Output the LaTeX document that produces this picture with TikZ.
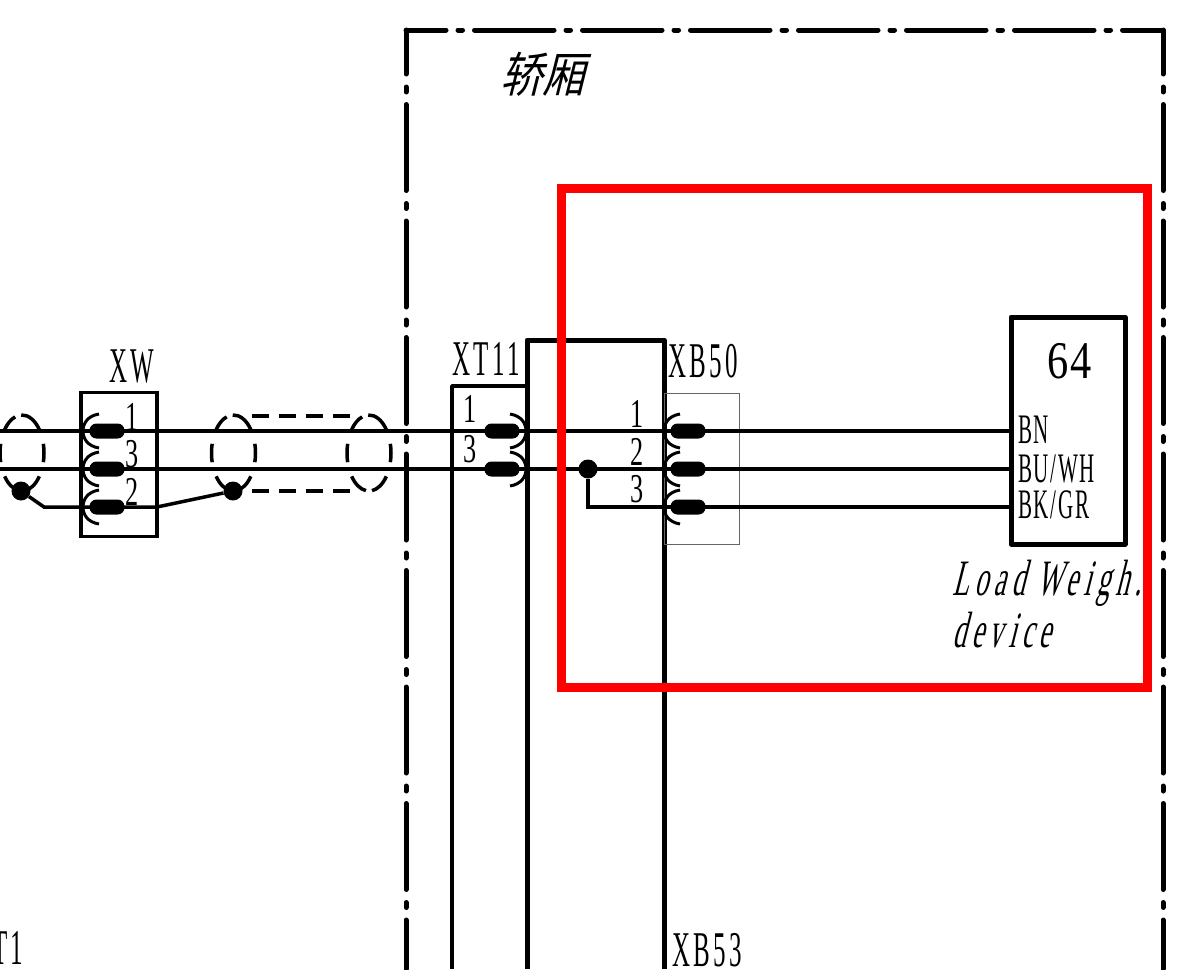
\documentclass[tikz,border=0pt]{standalone}
\usepackage{fontspec}
\usepackage{xcolor}
\usepackage{tikz}
\newfontfamily\cadfont[FakeStretch=.5,LetterSpace=7]{Liberation Serif}
\newfontfamily\pinfont[FakeStretch=.5,LetterSpace=4]{Liberation Serif}
\newfontfamily\digitfont[FakeStretch=.64]{Liberation Serif}
\newfontfamily\bigdigitfont[FakeStretch=.8]{Liberation Serif}
\newfontfamily\caditfont[FakeStretch=.53,FakeSlant=.25,LetterSpace=11]{Liberation Serif}
\newfontfamily\cjkfont[FakeStretch=.88,FakeSlant=.25]{Noto Sans CJK SC}
\definecolor{markred}{RGB}{255,0,0}
\tikzset{
  wire/.style={line width=3.5pt},
  heavy/.style={line width=5pt, line join=round},
  boxline/.style={line width=3.5pt, line join=round},
  pill/.style={draw=none, fill=black, rectangle, rounded corners=7pt, minimum width=35pt, minimum height=15pt, inner sep=0pt},
  contact/.style={line width=3pt},
  joint/.style={circle, fill=black, minimum size=19pt, inner sep=0pt},
  shield/.style={line width=3.5pt},
  shieldrun/.style={line width=3.5pt, dash pattern=on 17pt off 10pt},
  framex/.style={line width=5pt, line cap=round, dash pattern=on 79.5pt off 12pt on 4.5pt off 12pt, dash phase=39.5pt},
  framey/.style={line width=5pt, line cap=round, dash pattern=on 86pt off 13pt on 5pt off 12.5pt, dash phase=42pt},
  lab/.style={inner sep=0pt, anchor=base west, font=\cadfont\fontsize{50}{50}\selectfont},
  digit/.style={inner sep=0pt, anchor=base, font=\digitfont\fontsize{41}{41}\selectfont},
  pin/.style={inner sep=0pt, anchor=base west, font=\pinfont\fontsize{42}{42}\selectfont},
  slanted/.style={inner sep=0pt, anchor=base west, font=\caditfont\fontsize{51}{51}\selectfont}
}
\newcommand{\contactleft}[3]{
  \node[pill] (#1) at (#2+17,#3) {};
  \draw[contact] (#2+9,#3-17) .. controls (#2-3,#3-15) and (#2-7,#3-7) .. (#2-7,#3) .. controls (#2-7,#3+7) and (#2-3,#3+15) .. (#2+9,#3+17);
}
\newcommand{\contactright}[3]{
  \node[pill] (#1) at (#2-17,#3) {};
  \draw[contact] (#2-9,#3-17) .. controls (#2+3,#3-15) and (#2+7,#3-7) .. (#2+7,#3) .. controls (#2+7,#3+7) and (#2+3,#3+15) .. (#2-9,#3+17);
}
\newcommand{\shieldloop}[1]{
  \foreach \from/\to in {38/92,108/142,166/194,218/262,278/322,346/374}
    \draw[shield] (#1+22*cos \from,453-38*sin \from) arc[start angle=-\from, end angle=-\to, x radius=22, y radius=38];
}

\begin{document}
\begin{tikzpicture}[x=1pt,y=-1pt]
 \useasboundingbox (0,0) rectangle (1185,969);
 % frame
 \coordinate (FL) at (406,969);
 \coordinate (TL) at (406,30);
 \coordinate (TR) at (1163,30);
 \coordinate (FR) at (1163,969);
 \draw[framex] (TL)--(TR);
 \draw[framey] (TL)--(FL);
 \draw[framey] (TR)--(FR);
 \node[inner sep=0pt, anchor=base west, font=\cjkfont\fontsize{48}{48}\selectfont] (CAR) at (500,92) {轿厢};

 % housings
 \coordinate (XTa) at (452,969);
 \coordinate (XTb) at (452,386);
 \coordinate (XTc) at (527,386);
 \coordinate (CBa) at (527,969);
 \coordinate (CBb) at (527,340);
 \coordinate (CBc) at (664,340);
 \coordinate (CBd) at (664,969);
 \draw[boxline] (XTa)--(XTb)--(XTc);
 \draw[heavy] (CBa)--(CBb)--(CBc)--(CBd);
 \node[draw, line width=3.5pt, minimum width=76pt, minimum height=144pt, inner sep=0pt] (XW) at (119,464.5) {};
 \node[draw=black!60, line width=1pt, minimum width=75pt, minimum height=151pt, inner sep=0pt] (XBbox) at (701.5,468.5) {};
 \node[draw, line width=5pt, line join=round, minimum width=114pt, minimum height=227pt, inner sep=0pt] (LW) at (1068,430.5) {};

 % wires
 \coordinate (Wa) at (0,431);
 \coordinate (Wb) at (0,469);
 \coordinate (Wc) at (44,507);
 \coordinate (Wd) at (157,507);
 \node[joint] (Ja) at (21,491) {};
 \node[joint] (Jb) at (233,491) {};
 \node[joint] (Jc) at (588,469) {};
 \coordinate (Je) at (588,507);
 \draw[wire] (Wa)--(LW.west |- Wa);
 \draw[wire] (Wb)--(LW.west |- Wb);
 \draw[wire] (Ja)--(Wc)--(Wd)--(Jb);
 \draw[wire] (Jc)--(Je)--(LW.west |- Je);

 % cable screens
 \shieldloop{22}
 \shieldloop{233.5}
 \shieldloop{369}
 \coordinate (Sa) at (252,416);
 \coordinate (Sb) at (350,416);
 \coordinate (Sc) at (252,491);
 \coordinate (Sd) at (350,491);
 \draw[shieldrun] (Sa)--(Sb);
 \draw[shieldrun] (Sc)--(Sd);

 % contacts
 \contactleft{XWa}{90}{431}
 \contactleft{XWb}{90}{469}
 \contactleft{XWc}{90}{507}
 \contactright{XTa1}{519}{431}
 \contactright{XTa2}{519}{469}
 \contactleft{XBa}{671}{431}
 \contactleft{XBb}{671}{469}
 \contactleft{XBc}{671}{507}

 % labels
 \node[lab] (tXW) at (109,382) {X\hspace{3pt}W};
 \node[digit] (d1) at (132,430) {1};
 \node[digit] (d2) at (132,467) {3};
 \node[digit] (d3) at (132,505) {2};
 \node[lab] (tXT) at (452,375) {XT11};
 \node[digit] (d4) at (470,422) {1};
 \node[digit] (d5) at (470,462) {3};
 \node[digit] (d6) at (637,427) {1};
 \node[digit] (d7) at (637,465) {2};
 \node[digit] (d8) at (637,502) {3};
 \node[lab] (tXB) at (668,377) {XB50};
 \node[lab] (tXC) at (672,966) {XB53};
 \node[lab] (tT) at (-8,964) {T1};
 \node[lab, font=\bigdigitfont\fontsize{53}{53}\selectfont] (t64) at (1047,378) {6\hspace{2pt}4};
 \node[pin] (tBN) at (1018,443) {BN};
 \node[pin] (tBU) at (1018,482) {BU/WH};
 \node[pin] (tBK) at (1018,518) {BK/GR};
 \node[slanted] (tLoad) at (952,595) {Load Weigh.};
 \node[slanted] (tDev) at (952,647) {device};

 % marker
 \coordinate (Ra) at (561.5,188.5);
 \coordinate (Rb) at (1147.5,687.5);
 \draw[markred, line width=9pt] (Ra) rectangle (Rb);
\end{tikzpicture}
\end{document}
